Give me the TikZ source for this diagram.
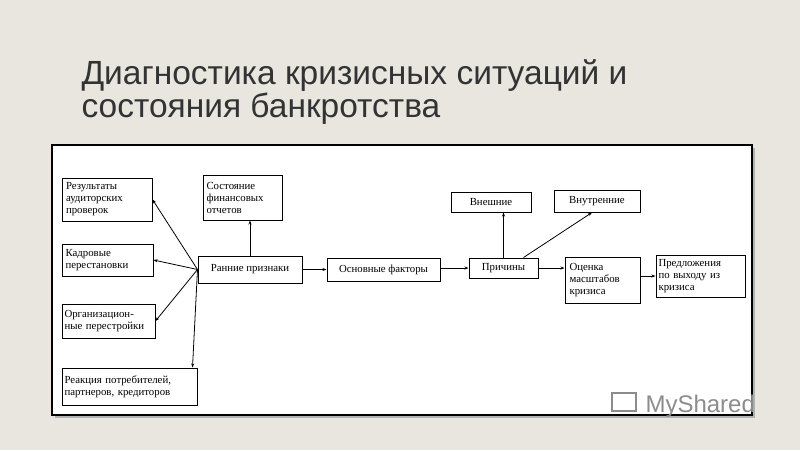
\documentclass[tikz,border=0pt]{standalone}
\usepackage{fontspec}
\setmainfont{Liberation Serif}
\newfontfamily\titlefont{Liberation Sans}
\usetikzlibrary{arrows.meta}
\definecolor{bg}{HTML}{E9E6DF}
\tikzset{
 bx/.style={draw,line width=1pt,inner sep=0pt,align=left,font=\fontsize{10.8}{12}\selectfont},
 ar/.style={-{Stealth[length=4pt,width=3pt]},line width=0.8pt},
}
\begin{document}
\begin{tikzpicture}[x=1pt,y=-1pt]
\fill[bg] (0,0) rectangle (800,450);
\useasboundingbox (0,0) rectangle (800,450);
\node[anchor=base west,text=black!80,font=\titlefont\fontsize{33.5}{36}\selectfont,align=left] (title) at (78,84) {Диагностика кризисных ситуаций и};
\node[anchor=base west,text=black!80,font=\titlefont\fontsize{33.5}{36}\selectfont] (title2) at (78,117) {состояния банкротства};
\fill[black!30] (55,148) rectangle (755,418);
\draw[fill=white,line width=2pt] (52,145) rectangle (752,415);
\node[bx,minimum width=90pt,minimum height=43pt,text width=82pt] (r) at (107,199.5) {Результаты\\аудиторских\\проверок};
\node[bx,minimum width=91pt,minimum height=32pt,text width=84pt] (k) at (107.5,260) {Кадровые\\перестановки};
\node[bx,minimum width=93pt,minimum height=34pt,text width=88pt] (o) at (108.5,321) {Организацион-\\ные перестройки};
\node[bx,minimum width=135pt,minimum height=37pt,text width=130pt] (p) at (129.5,386.5) {Реакция потребителей,\\партнеров, кредиторов};
\node[bx,minimum width=79pt,minimum height=45pt,text width=72pt] (s) at (242.5,197.5) {Состояние\\финансовых\\отчетов};
\node[bx,minimum width=104pt,minimum height=27pt,align=center] (rp) at (250,269.5) {Ранние признаки};
\node[bx,minimum width=113pt,minimum height=23pt,align=center] (of) at (383.5,269.5) {Основные факторы};
\node[bx,minimum width=69pt,minimum height=20pt,align=center] (pr) at (503.5,268) {Причины};
\node[bx,minimum width=80pt,minimum height=20pt,align=center] (vn) at (491,202) {Внешние};
\node[bx,minimum width=86pt,minimum height=22pt,align=center] (vt) at (597,201) {Внутренние};
\node[bx,minimum width=75pt,minimum height=46pt,text width=66pt] (oc) at (602.5,280) {Оценка\\масштабов\\кризиса};
\node[bx,minimum width=89pt,minimum height=42pt,text width=84pt] (pv) at (700.5,276) {Предложения\\по выходу из\\кризиса};
\draw[ar] (rp.west) -- (r.east);
\draw[ar] (rp.west) -- (k.east);
\draw[ar] (rp.west) -- (o.east);
\draw[ar] (rp.west) -- ([xshift=-5pt]p.north east);
\draw[ar] (rp.north) -- (rp.north |- s.south);
\draw[ar] (rp.east) -- (of.west);
\draw[ar] (pr.west -| of.east) -- (pr.west);
\draw[ar] (pr.north) -- (pr.north |- vn.south);
\draw[ar] ([xshift=20pt]pr.north) -- ([xshift=-5pt]vt.south);
\draw[ar] (pr.east) -- (pr.east -| oc.west);
\draw[ar] (oc.east |- pv.west) -- (pv.west);
\node[anchor=base west,text=black!45,font=\titlefont\fontsize{24}{26}\selectfont] (ms) at (642,412) {MyShared};
\draw[black!45,line width=1.5pt] (612,393) rectangle (636,411);
\end{tikzpicture}
\end{document}
